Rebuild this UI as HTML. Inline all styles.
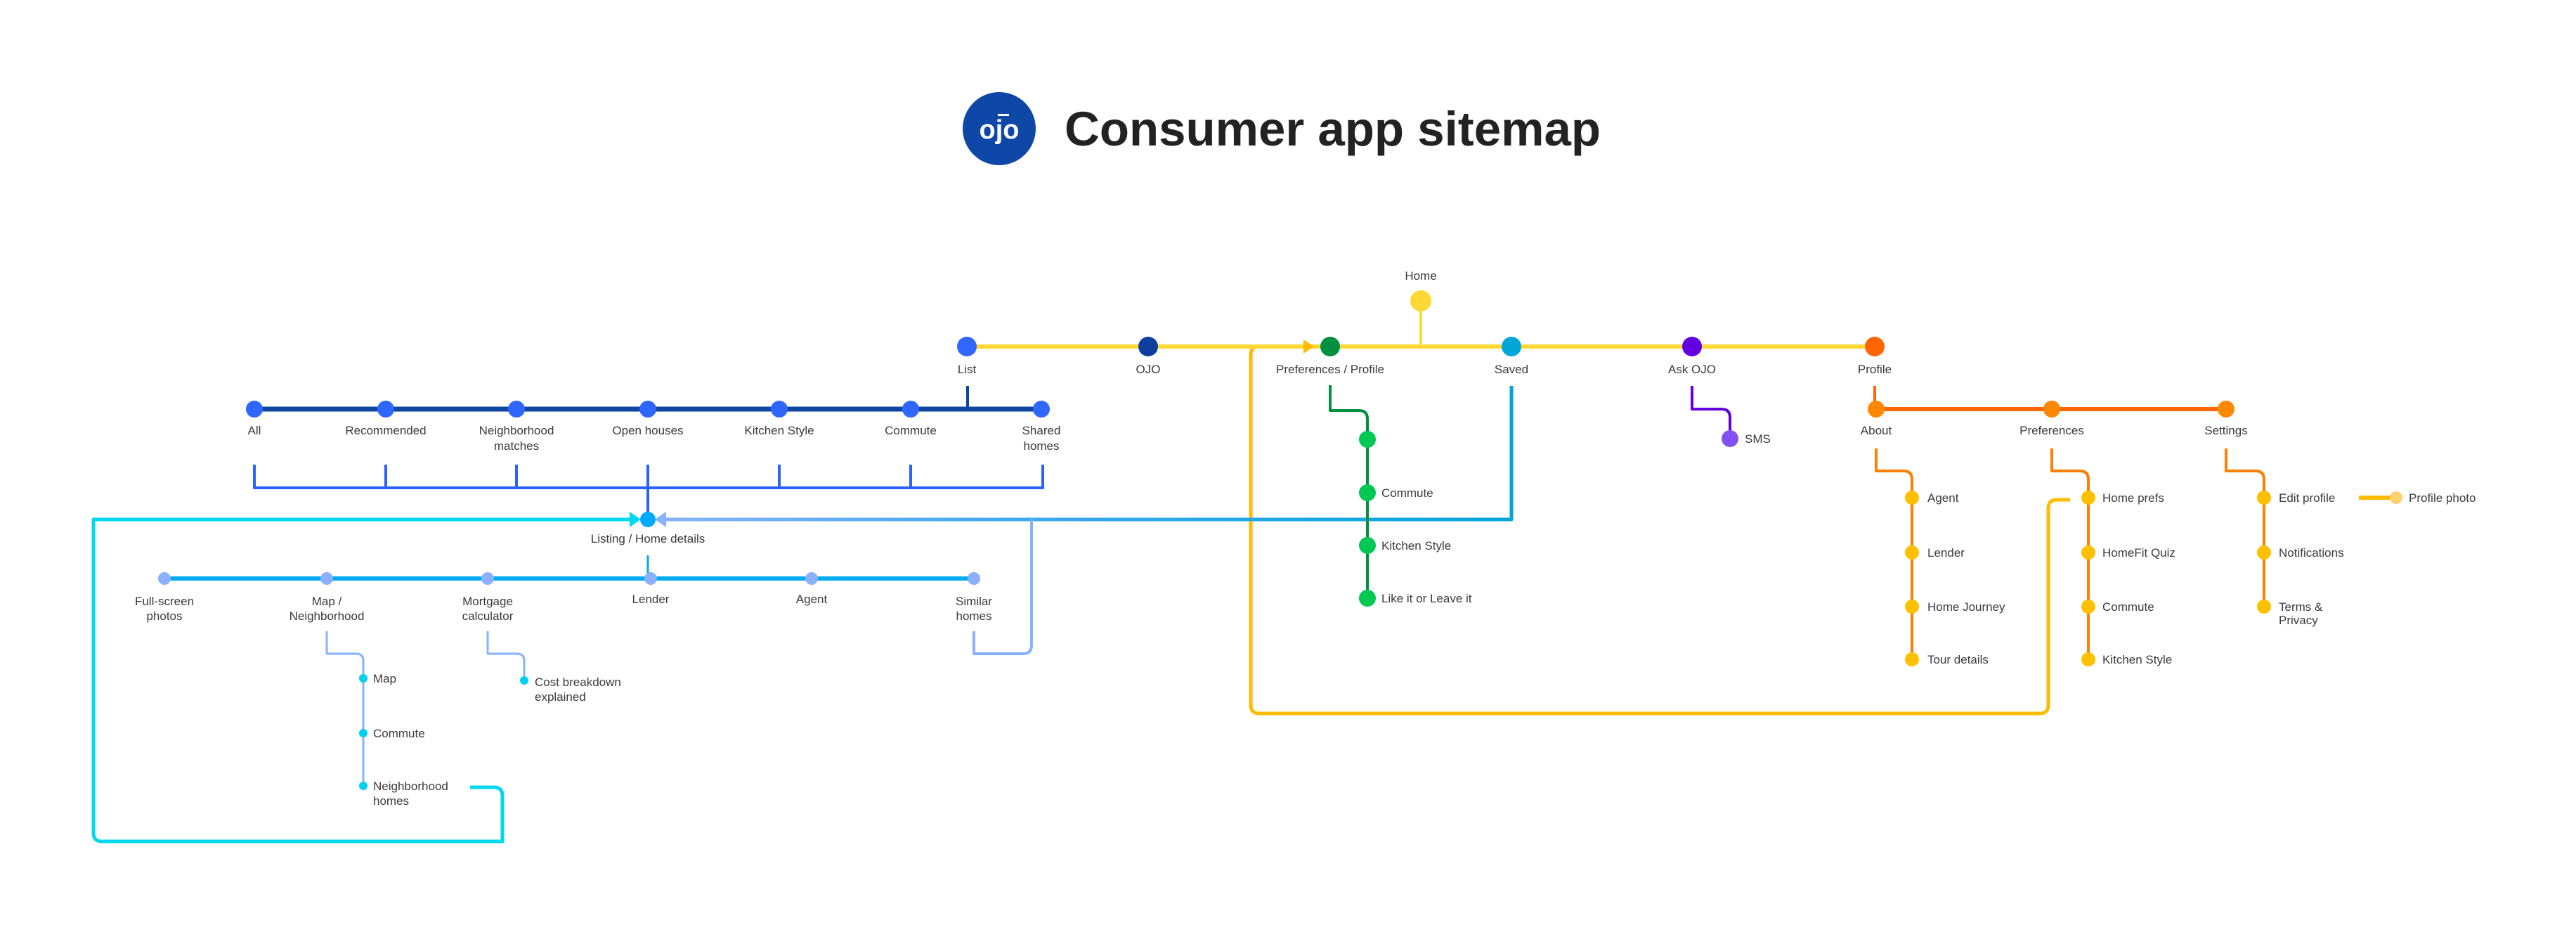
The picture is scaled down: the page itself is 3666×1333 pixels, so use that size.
<!DOCTYPE html>
<html><head><meta charset="utf-8"><style>
html,body{margin:0;padding:0;background:#fff;}
svg{display:block}
text{font-family:"Liberation Sans",sans-serif;font-size:17px;fill:#3a3a3a;}
.c{text-anchor:middle}
</style></head><body>
<svg width="3666" height="1333" viewBox="0 0 3666 1333" xmlns="http://www.w3.org/2000/svg">
<defs>
<linearGradient id="lb" x1="942" y1="0" x2="2151" y2="0" gradientUnits="userSpaceOnUse">
<stop offset="0" stop-color="#86b2ff"/><stop offset="0.4" stop-color="#3fa9ef"/><stop offset="1" stop-color="#00a6d8"/></linearGradient>
</defs>
<!-- title -->
<circle cx="1422" cy="183" r="52" fill="#0e47a6"/>
<text x="1422" y="197" class="c" style="font-size:38px;fill:#fff;font-weight:bold">ojo</text>
<rect x="1420" y="162" width="16" height="3" fill="#fff"/>
<text x="1515" y="207" style="font-size:69px;font-weight:bold;fill:#222">Consumer app sitemap</text>

<g fill="none" stroke-linejoin="round">
<path d="M1862 493 H1792 Q1780 493 1780 505 V1003 Q1780 1015 1792 1015 H2903 Q2915 1015 2915 1003 V723 Q2915 711 2927 711 H2946" stroke="#ffbb00" stroke-width="5"/>
<path d="M1375 493 H2668" stroke="#ffd835" stroke-width="6"/>
<path d="M2022 428 V493" stroke="#ffd835" stroke-width="4"/>
<path d="M1377 549 V582" stroke="#0d47a1" stroke-width="4"/>
<path d="M362 582 H1482" stroke="#0d47a1" stroke-width="7"/>
<path d="M362 661 V694 H1484 V661 M549 661 V694 M735 661 V694 M922 661 V739 M1109 661 V694 M1296 661 V694" stroke="#2962ff" stroke-width="4"/>
<path d="M900 739 H133 V1185 Q133 1197 145 1197 H715 V1132 Q715 1120 703 1120 H669" stroke="#00d8f0" stroke-width="5"/>
<path d="M944 739 H2151 V549" stroke="url(#lb)" stroke-width="5"/>
<path d="M2151 739 V549" stroke="#00a6d8" stroke-width="4"/>
<path d="M1468 739 V918 Q1468 930 1456 930 H1386 V898" stroke="#86b2ff" stroke-width="4"/>
<path d="M922 790 V823" stroke="#00aaf0" stroke-width="3"/>
<path d="M234 823 H1386" stroke="#00aaf0" stroke-width="6"/>
<path d="M465 898 V930 H507 Q517 930 517 940 V1118" stroke="#86b2ff" stroke-width="3"/>
<path d="M694 898 V930 H736 Q746 930 746 940 V968" stroke="#86b2ff" stroke-width="3"/>
<path d="M1893 548 V584 H1934 Q1946 584 1946 596 V851" stroke="#009040" stroke-width="4"/>
<path d="M2408 549 V582 H2450 Q2462 582 2462 594 V624" stroke="#6200e0" stroke-width="4"/>
<path d="M2668 549 V582" stroke="#ff6600" stroke-width="4"/>
<path d="M2670 582 H3168" stroke="#ff6600" stroke-width="6"/>
<path d="M2670 638 V670 H2709 Q2721 670 2721 682 V938" stroke="#ff8000" stroke-width="4"/>
<path d="M2920 638 V670 H2960 Q2972 670 2972 682 V938" stroke="#ff8000" stroke-width="4"/>
<path d="M3168 638 V670 H3210 Q3222 670 3222 682 V863" stroke="#ff8000" stroke-width="4"/>
<path d="M3357 708 H3406" stroke="#ffbb00" stroke-width="6"/>
</g>
<polygon points="1870,493 1855,483 1855,503" fill="#ffbb00"/>
<polygon points="912,739 896,728 896,750" fill="#00d8f0"/>
<polygon points="932,739 948,728 948,750" fill="#86b2ff"/>

<g>
<circle cx="1376" cy="493" r="14" fill="#3366ff"/>
<circle cx="1634" cy="493" r="14" fill="#0d3f9e"/>
<circle cx="1893" cy="493" r="14" fill="#009040"/>
<circle cx="2022" cy="428" r="15" fill="#ffd835"/>
<circle cx="2151" cy="493" r="14" fill="#00a6d8"/>
<circle cx="2408" cy="493" r="14" fill="#6200e0"/>
<circle cx="2668" cy="493" r="14" fill="#ff6600"/>
</g>
<g fill="#2f66ff">
<circle cx="362" cy="582" r="12"/><circle cx="549" cy="582" r="12"/><circle cx="735" cy="582" r="12"/><circle cx="922" cy="582" r="12"/><circle cx="1109" cy="582" r="12"/><circle cx="1296" cy="582" r="12"/><circle cx="1482" cy="582" r="12"/>
</g>
<circle cx="922" cy="739" r="11" fill="#00aaff"/>
<g fill="#8ab0ff">
<circle cx="234" cy="823" r="9"/><circle cx="465" cy="823" r="9"/><circle cx="694" cy="823" r="9"/><circle cx="926" cy="823" r="9"/><circle cx="1155" cy="823" r="9"/><circle cx="1386" cy="823" r="9"/>
</g>
<g fill="#00d0f0">
<circle cx="517" cy="965" r="6"/><circle cx="517" cy="1043" r="6"/><circle cx="517" cy="1118" r="6"/><circle cx="746" cy="968" r="6"/>
</g>
<g fill="#00c853">
<circle cx="1946" cy="625" r="12"/><circle cx="1946" cy="701" r="12"/><circle cx="1946" cy="776" r="12"/><circle cx="1946" cy="851" r="12"/>
</g>
<circle cx="2462" cy="624" r="12" fill="#8050f0"/>
<g fill="#ff8800">
<circle cx="2670" cy="582" r="12"/><circle cx="2920" cy="582" r="12"/><circle cx="3168" cy="582" r="12"/>
</g>
<g fill="#ffc000">
<circle cx="2721" cy="708" r="10"/><circle cx="2721" cy="786" r="10"/><circle cx="2721" cy="863" r="10"/><circle cx="2721" cy="938" r="10"/>
<circle cx="2972" cy="708" r="10"/><circle cx="2972" cy="786" r="10"/><circle cx="2972" cy="863" r="10"/><circle cx="2972" cy="938" r="10"/>
<circle cx="3222" cy="708" r="10"/><circle cx="3222" cy="786" r="10"/><circle cx="3222" cy="863" r="10"/>
</g>
<circle cx="3410" cy="708" r="9" fill="#ffcf70"/>

<g class="c">
<text x="2022" y="398" class="c">Home</text>
<text x="1376" y="531" class="c">List</text>
<text x="1634" y="531" class="c">OJO</text>
<text x="1893" y="531" class="c">Preferences / Profile</text>
<text x="2151" y="531" class="c">Saved</text>
<text x="2408" y="531" class="c">Ask OJO</text>
<text x="2668" y="531" class="c">Profile</text>
<text x="362" y="618" class="c">All</text>
<text x="549" y="618" class="c">Recommended</text>
<text x="735" y="618" class="c">Neighborhood</text><text x="735" y="640" class="c">matches</text>
<text x="922" y="618" class="c">Open houses</text>
<text x="1109" y="618" class="c">Kitchen Style</text>
<text x="1296" y="618" class="c">Commute</text>
<text x="1482" y="618" class="c">Shared</text><text x="1482" y="640" class="c">homes</text>
<text x="922" y="772" class="c">Listing / Home details</text>
<text x="234" y="861" class="c">Full-screen</text><text x="234" y="882" class="c">photos</text>
<text x="465" y="861" class="c">Map /</text><text x="465" y="882" class="c">Neighborhood</text>
<text x="694" y="861" class="c">Mortgage</text><text x="694" y="882" class="c">calculator</text>
<text x="926" y="858" class="c">Lender</text>
<text x="1155" y="858" class="c">Agent</text>
<text x="1386" y="861" class="c">Similar</text><text x="1386" y="882" class="c">homes</text>
<text x="2670" y="618" class="c">About</text>
<text x="2920" y="618" class="c">Preferences</text>
<text x="3168" y="618" class="c">Settings</text>
</g>
<text x="531" y="971">Map</text>
<text x="531" y="1049">Commute</text>
<text x="531" y="1124">Neighborhood</text><text x="531" y="1145">homes</text>
<text x="761" y="976">Cost breakdown</text><text x="761" y="997">explained</text>
<text x="1966" y="707">Commute</text>
<text x="1966" y="782">Kitchen Style</text>
<text x="1966" y="857">Like it or Leave it</text>
<text x="2483" y="630">SMS</text>
<text x="2743" y="714">Agent</text>
<text x="2743" y="792">Lender</text>
<text x="2743" y="869">Home Journey</text>
<text x="2743" y="944">Tour details</text>
<text x="2992" y="714">Home prefs</text>
<text x="2992" y="792">HomeFit Quiz</text>
<text x="2992" y="869">Commute</text>
<text x="2992" y="944">Kitchen Style</text>
<text x="3243" y="714">Edit profile</text>
<text x="3243" y="792">Notifications</text>
<text x="3243" y="869">Terms &amp;</text><text x="3243" y="888">Privacy</text>
<text x="3428" y="714">Profile photo</text>
</svg>
</body></html>
